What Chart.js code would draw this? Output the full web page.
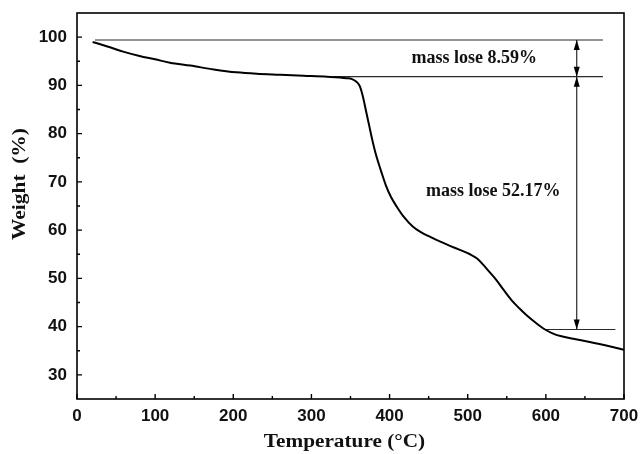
<!DOCTYPE html>
<html>
<head>
<meta charset="utf-8">
<script src="https://cdn.jsdelivr.net/npm/chart.js@4/dist/chart.umd.min.js"></script>
<style>
html,body{margin:0;padding:0;background:#fff;}
#wrap{width:643px;height:454px;position:relative;}
</style>
</head>
<body>
<div id="wrap"><canvas id="c" width="643" height="454"></canvas></div>
<script>
// ---- data ----
const temperature = [20, 40, 59, 80, 100, 119, 145, 175, 204, 230, 260, 290, 320, 345, 352, 358, 362, 366, 370, 374, 378, 382, 386, 390, 395, 402, 409, 418, 430, 440, 452, 465, 478, 490, 503, 512, 520, 528, 537, 546, 556, 566, 575, 587, 599, 610, 620, 635, 650, 665, 680, 700];
const weight = [99.0, 98.0, 97.0, 96.1, 95.4, 94.7, 94.1, 93.3, 92.7, 92.4, 92.2, 92.0, 91.8, 91.5, 91.3, 90.7, 89.8, 87.6, 84.6, 81.6, 78.6, 76.0, 73.8, 71.8, 69.4, 66.8, 64.9, 62.8, 60.7, 59.6, 58.6, 57.6, 56.7, 55.9, 55.0, 54.1, 52.8, 51.3, 49.6, 47.6, 45.5, 43.8, 42.4, 40.8, 39.4, 38.5, 38.0, 37.5, 37.0, 36.5, 36.0, 35.2];

const xTicks = [0, 100, 200, 300, 400, 500, 600, 700];
const yTicks = [30, 40, 50, 60, 70, 80, 90, 100];
const xMinorTicks = [50, 150, 250, 350, 450, 550, 650];
const yMinorTicks = [35, 45, 55, 65, 75, 85, 95];

// reference levels (weight %) and their x extents
const levelTop = 99.4, levelMid = 91.8, levelEnd = 39.4;
const levelTopX = [23, 673];
const levelMidX = [328, 673];
const levelEndX = [599, 689];
const arrowX = 639.5;

const label1 = "mass lose 8.59%";
const label1Pos = [428, 94.6];
const label2 = "mass lose 52.17%";
const label2Pos = [446.6, 67.1];

const xTitle = "Temperature (\u00B0C)";
const yTitle = "Weight  (%)";

// ---- build ----
const curve = temperature.map((t, i) => ({x: t, y: weight[i]}));
const seg = (x0, y0, x1, y1) => [{x: x0, y: y0}, {x: x1, y: y1}];
const thin = {showLine: true, pointRadius: 0, borderColor: '#2a2a2a', borderWidth: 1.2, fill: false};

const decor = {
  id: 'decor',
  afterDatasetsDraw(chart) {
    const {ctx, chartArea: a, scales: {x, y}} = chart;
    ctx.save();
    // frame
    ctx.strokeStyle = '#000';
    ctx.lineWidth = 1.6;
    ctx.strokeRect(a.left, a.top, a.right - a.left, a.bottom - a.top);
    // inward ticks
    ctx.lineWidth = 1.4;
    ctx.beginPath();
    xTicks.forEach(v => { const p = x.getPixelForValue(v); ctx.moveTo(p, a.bottom); ctx.lineTo(p, a.bottom - 5); });
    xMinorTicks.forEach(v => { const p = x.getPixelForValue(v); ctx.moveTo(p, a.bottom); ctx.lineTo(p, a.bottom - 3); });
    yTicks.forEach(v => { const p = y.getPixelForValue(v); ctx.moveTo(a.left, p); ctx.lineTo(a.left + 5, p); });
    yMinorTicks.forEach(v => { const p = y.getPixelForValue(v); ctx.moveTo(a.left, p); ctx.lineTo(a.left + 3, p); });
    ctx.stroke();
    // arrowheads
    const head = (xv, yv, dir) => {
      const px = x.getPixelForValue(xv), py = y.getPixelForValue(yv);
      ctx.beginPath();
      ctx.moveTo(px, py);
      ctx.lineTo(px - 3, py + dir * 10);
      ctx.lineTo(px + 3, py + dir * 10);
      ctx.closePath();
      ctx.fillStyle = '#000';
      ctx.fill();
    };
    head(arrowX, levelTop, 1);
    head(arrowX, levelMid, -1);
    head(arrowX, levelMid, 1);
    head(arrowX, levelEnd, -1);
    // annotation text
    ctx.fillStyle = '#111';
    ctx.font = 'bold 18px "Liberation Serif", "Times New Roman", serif';
    ctx.textAlign = 'left';
    ctx.textBaseline = 'alphabetic';
    ctx.fillText(label1, x.getPixelForValue(label1Pos[0]), y.getPixelForValue(label1Pos[1]));
    ctx.fillText(label2, x.getPixelForValue(label2Pos[0]), y.getPixelForValue(label2Pos[1]));
    // axis titles
    ctx.font = 'bold 18px "Liberation Serif", "Times New Roman", serif';
    ctx.textAlign = 'center';
    ctx.save();
    ctx.translate((a.left + a.right) / 2 - 6, 447);
    ctx.scale(1.18, 1);
    ctx.fillText(xTitle, 0, 0);
    ctx.restore();
    ctx.save();
    ctx.translate(25, 184);
    ctx.rotate(-Math.PI / 2);
    ctx.scale(1.19, 1);
    ctx.fillText(yTitle, 0, 0);
    ctx.restore();
    ctx.restore();
  }
};

const noPad = s => { s.paddingTop = 0; s.paddingBottom = 0; s.paddingLeft = 0; s.paddingRight = 0; };

new Chart(document.getElementById('c'), {
  type: 'scatter',
  data: {
    datasets: [
      {data: curve, showLine: true, pointRadius: 0, borderColor: '#000', borderWidth: 2, fill: false, cubicInterpolationMode: 'monotone'},
      Object.assign({data: seg(levelTopX[0], levelTop, levelTopX[1], levelTop)}, thin),
      Object.assign({data: seg(levelMidX[0], levelMid, levelMidX[1], levelMid)}, thin),
      Object.assign({data: seg(levelEndX[0], levelEnd, levelEndX[1], levelEnd)}, thin),
      Object.assign({data: seg(arrowX, levelTop, arrowX, levelMid)}, thin),
      Object.assign({data: seg(arrowX, levelMid, arrowX, levelEnd)}, thin)
    ]
  },
  options: {
    responsive: false,
    animation: false,
    devicePixelRatio: 1,
    layout: {padding: {top: 13, right: 19, left: 0, bottom: 0}},
    plugins: {legend: {display: false}, tooltip: {enabled: false}},
    scales: {
      x: {
        type: 'linear', min: 0, max: 700,
        grid: {display: false, drawTicks: false},
        border: {display: false},
        afterBuildTicks: s => { s.ticks = xTicks.map(v => ({value: v})); },
        afterFit: s => { s.height = 55; noPad(s); },
        ticks: {color: '#111', padding: 7, maxRotation: 0, font: {family: '"Liberation Sans", Arial, sans-serif', size: 17, weight: 'bold'}}
      },
      y: {
        type: 'linear', min: 25, max: 105,
        grid: {display: false, drawTicks: false},
        border: {display: false},
        afterBuildTicks: s => { s.ticks = yTicks.map(v => ({value: v})); },
        afterFit: s => { s.width = 77; noPad(s); },
        ticks: {color: '#111', padding: 10, font: {family: '"Liberation Sans", Arial, sans-serif', size: 17, weight: 'bold'}}
      }
    }
  },
  plugins: [decor]
});
</script>
</body>
</html>
